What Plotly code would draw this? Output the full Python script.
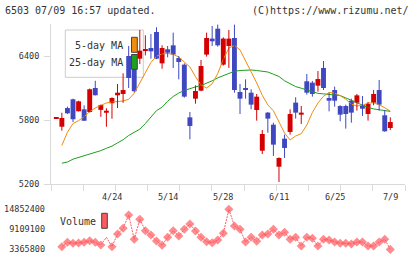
import plotly.graph_objects as go

# ---------------- data ----------------
tick_idx = [10, 20, 30, 40, 50, 60]
tick_text = ["4/24", "5/14", "5/28", "6/11", "6/25", "7/9"]

opens = [5818, 5737, 5912, 5994, 5882, 5900, 5875, 6100, 5895, 5868,
         5957, 6032, 6044, 6400, 6300, 6375, 6450, 6475, 6625, 6331,
         6463, 6500, 6381, 6319, 5825, 6000, 6075, 6413, 6563, 6656,
         6319, 6494, 6569, 6063, 6100, 6056, 5894, 5512, 5869, 5756,
         5362, 5625, 5688, 5963, 5850, 6163, 6150, 6122, 6288, 6006,
         6081, 5931, 5931, 5981, 5962, 5938, 5856, 5962, 6081, 5844,
         5725]
highs = [5822, 5868, 5925, 6000, 5981, 5938, 6095, 6168, 5945, 5910,
         6013, 6138, 6238, 6494, 6340, 6644, 6594, 6606, 6669, 6500,
         6494, 6619, 6400, 6331, 5875, 6125, 6363, 6619, 6681, 6694,
         6575, 6644, 6694, 6138, 6181, 6088, 6044, 5706, 5875, 5775,
         5450, 5663, 5900, 6013, 5931, 6231, 6166, 6259, 6353, 6056,
         6113, 5938, 5944, 6000, 6044, 6025, 5969, 6081, 6175, 5894,
         5825]
lows = [5814, 5700, 5855, 5781, 5880, 5793, 5870, 6030, 5830, 5737,
        5812, 5913, 5962, 6100, 6060, 6325, 6406, 6375, 6370, 6281,
        6388, 6288, 6181, 6010, 5619, 5953, 6070, 6394, 6494, 6488,
        6310, 6288, 6056, 5856, 6000, 5900, 5794, 5481, 5681, 5463,
        5219, 5444, 5663, 5813, 5763, 6038, 6019, 6066, 6081, 5881,
        5925, 5788, 5719, 5775, 5888, 5838, 5794, 5938, 5888, 5690,
        5706]
closes = [5818, 5819, 5863, 5807, 5975, 5793, 6088, 6032, 5940, 5887,
          6006, 6056, 6081, 6194, 6070, 6450, 6463, 6444, 6375, 6475,
          6431, 6413, 6344, 6019, 5744, 6072, 6306, 6569, 6538, 6500,
          6563, 6563, 6081, 6000, 6081, 5944, 6019, 5669, 5813, 5569,
          5444, 5538, 5856, 5869, 5869, 6056, 6044, 6184, 6100, 5981,
          5981, 5850, 5856, 5869, 6031, 5906, 5950, 6044, 5944, 5694,
          5781]
ma5 = [None, 5561, 5686, 5767, 5794, 5830, 5879, 5913, 5935, 5960,
       5969, 5973, 5978, 5994, 6051, 6147, 6250, 6340, 6398, 6419,
       6424, 6416, 6390, 6345, 6297, 6206, 6128, 6100, 6139, 6235,
       6369, 6474, 6500, 6457, 6357, 6258, 6148, 6032, 5941, 5887,
       5778, 5678, 5613, 5650, 5672, 5753, 5870, 5959, 6023, 6058,
       6053, 6028, 5995, 5949, 5931, 5939, 5958, 5962, 5944, 5917,
       5884]
ma25 = [None, 5395, 5406, 5433, 5448, 5463, 5476, 5493, 5513, 5535,
        5555, 5585, 5615, 5655, 5682, 5714, 5767, 5831, 5888, 5920,
        5976, 6020, 6053, 6077, 6096, 6110, 6123, 6143, 6168, 6195,
        6218, 6240, 6257, 6264, 6267, 6269, 6264, 6258, 6250, 6229,
        6208, 6168, 6137, 6113, 6098, 6084, 6067, 6050, 6045, 6041,
        6035, 6029, 6007, 5985, 5960, 5938, 5917, 5904, 5894, 5887,
        5881]
volumes = [None, 4139000, 5400000, 5113000, 5199000, 5400000, 5858000, 5400000, 4626000, 6832000,
           4139000, 7777000, 9410000, 13220000, 6259000, 11988000, 8723000, 7491000, 5772000, 4540000,
           6832000, 8723000, 7204000, 9124000, 10642000, 8637000, 6832000, 5572000, 5285000, 6059000,
           7978000, 14852400, 10069000, 9124000, 5486000, 6832000, 5686000, 7491000, 7777000, 9124000,
           7491000, 8264000, 6259000, 6832000, 4340000, 6832000, 6546000, 4340000, 6259000, 6059000,
           5486000, 5113000, 5113000, 4913000, 5486000, 5486000, 4340000, 4340000, 5486000, 6259000,
           3365800]
price_ticks = [5200, 5800, 6400]
vol_ticks = [3365800, 9109100, 14852400]

# ---------------- styling / layout helpers ----------------
W, H = 420, 259
PL, PR = 51, 405
RED = "#d40000"
BLUE = "#3f48c0"
ORANGE = "#f08c10"
GREEN = "#1ea01e"
VOLC = "#ff5a5f"
AX = "#d9d9d9"
TXT = "#333333"
FONT = "DejaVu Sans Mono"


def xp(px):
    return (px - PL) / (PR - PL)


def yp(py):
    return 1 - py / H


n = len(closes)
idx = list(range(n))
MINH = 12

fig = go.Figure()

# moving averages (under candles)
fig.add_trace(go.Scatter(x=idx, y=ma25, mode="lines", line=dict(color=GREEN, width=1),
                         hoverinfo="skip", xaxis="x", yaxis="y"))
fig.add_trace(go.Scatter(x=idx, y=ma5, mode="lines", line=dict(color=ORANGE, width=1),
                         hoverinfo="skip", xaxis="x", yaxis="y"))

for is_up, col in ((True, RED), (False, BLUE)):
    sel = [i for i in idx if (closes[i] >= opens[i]) == is_up]
    wx, wy = [], []
    for i in sel:
        wx += [i, i, None]
        wy += [lows[i], highs[i], None]
    fig.add_trace(go.Scatter(x=wx, y=wy, mode="lines", line=dict(color=col, width=1),
                             hoverinfo="skip", xaxis="x", yaxis="y"))
    bases, hts = [], []
    for i in sel:
        lo, hi = min(opens[i], closes[i]), max(opens[i], closes[i])
        d = hi - lo
        if d < MINH:
            lo -= (MINH - d) / 2
            d = MINH
        bases.append(lo)
        hts.append(d)
    fig.add_trace(go.Bar(x=sel, y=hts, base=bases, width=0.88,
                         marker=dict(color=col, line=dict(width=0)),
                         hoverinfo="skip", xaxis="x", yaxis="y"))

sizes = [7] * n
sizes[9] = 0
fig.add_trace(go.Scatter(x=idx, y=volumes, mode="lines+markers",
                         line=dict(color=VOLC, width=1, dash="2px,1px"),
                         marker=dict(symbol="diamond", size=sizes, color=VOLC, line=dict(width=0)),
                         cliponaxis=False, hoverinfo="skip", xaxis="x2", yaxis="y2"))

xr = [-0.952, 62.64]
grid_vals = [xr[0] + k * (xr[1] - xr[0]) / 11 for k in range(12)]
tf = dict(family=FONT, size=8.5, color=TXT)

shapes = [
    dict(type="rect", xref="paper", yref="paper", x0=xp(65.3), x1=xp(143.3), y0=yp(77.3), y1=yp(30),
         line=dict(color="#cccccc", width=1), fillcolor="white", layer="below"),
    dict(type="rect", xref="paper", yref="paper", x0=xp(131.5), x1=xp(137.3), y0=yp(52.3), y1=yp(37.3),
         line=dict(color="#444444", width=1), fillcolor=ORANGE, layer="above"),
    dict(type="rect", xref="paper", yref="paper", x0=xp(131.5), x1=xp(137.3), y0=yp(69.3), y1=yp(54.5),
         line=dict(color="#444444", width=1), fillcolor=GREEN, layer="above"),
    dict(type="rect", xref="paper", yref="paper", x0=xp(101.7), x1=xp(107.3), y0=yp(228.3), y1=yp(213.3),
         line=dict(color="#444444", width=1), fillcolor=VOLC, layer="above"),
]

annotations = [
    dict(x=xp(3), y=yp(10), xref="paper", yref="paper", text="6503 07/09 16:57 updated.",
         showarrow=False, xanchor="left", yanchor="middle", font=dict(family=FONT, size=10, color=TXT)),
    dict(x=xp(411), y=yp(10), xref="paper", yref="paper", text="(C)https://www.rizumu.net/",
         showarrow=False, xanchor="right", yanchor="middle", font=dict(family=FONT, size=10, color=TXT)),
    dict(x=xp(124.5), y=yp(46), xref="paper", yref="paper", text="5-day MA",
         showarrow=False, xanchor="right", yanchor="middle", font=dict(family=FONT, size=10, color=TXT)),
    dict(x=xp(124.5), y=yp(63), xref="paper", yref="paper", text="25-day MA",
         showarrow=False, xanchor="right", yanchor="middle", font=dict(family=FONT, size=10, color=TXT)),
    dict(x=xp(58), y=yp(221.5), xref="paper", yref="paper", text="Volume",
         showarrow=False, xanchor="left", yanchor="middle", font=dict(family=FONT, size=10, color=TXT)),
]
for i, t in zip(tick_idx, tick_text):
    annotations.append(dict(x=i, xref="x", y=yp(197), yref="paper", text=t, showarrow=False,
                            xanchor="center", yanchor="middle", font=tf))

fig.update_layout(
    width=W, height=H,
    margin=dict(l=PL, r=W - PR, t=0, b=0, autoexpand=False),
    paper_bgcolor="white", plot_bgcolor="rgba(0,0,0,0)",
    showlegend=False, barmode="overlay",
    font=dict(family=FONT, color=TXT),
    xaxis=dict(domain=[0, 1], range=xr, anchor="y", showline=True, linecolor=AX, linewidth=1,
               ticks="outside", ticklen=6, tickwidth=1, tickcolor=AX, tickmode="array",
               tickvals=grid_vals, showticklabels=False, showgrid=False, zeroline=False),
    xaxis3=dict(overlaying="x", anchor="y", range=xr, ticks="inside", ticklen=3, tickwidth=1,
                tickcolor=AX, tickmode="array", tickvals=grid_vals, showticklabels=False,
                showline=False, showgrid=False, zeroline=False),
    yaxis=dict(domain=[yp(184), yp(24)], range=[5200, 6700], anchor="x", showline=True,
               linecolor=AX, linewidth=1, ticks="outside", ticklen=6, tickwidth=1, tickcolor=AX,
               tickmode="array", tickvals=price_ticks, ticktext=[str(v) for v in price_ticks],
               tickfont=tf, showgrid=False, zeroline=False, ticklabelstandoff=3),
    yaxis3=dict(overlaying="y", anchor="x", range=[5200, 6700], ticks="inside", ticklen=3,
                tickwidth=1, tickcolor=AX, tickmode="array", tickvals=price_ticks,
                showticklabels=False, showline=False, showgrid=False, zeroline=False),
    xaxis2=dict(domain=[0, 1], matches="x", anchor="y2", visible=False),
    yaxis2=dict(domain=[yp(249.4), yp(209.3)], range=[3365800, 14852400], anchor="x2",
                showline=False, ticks="", tickmode="array", tickvals=vol_ticks,
                ticktext=[str(v) for v in vol_ticks], tickfont=tf, showgrid=False,
                zeroline=False, ticklabelstandoff=5),
    shapes=shapes, annotations=annotations,
)

fig.write_html("out.html")
